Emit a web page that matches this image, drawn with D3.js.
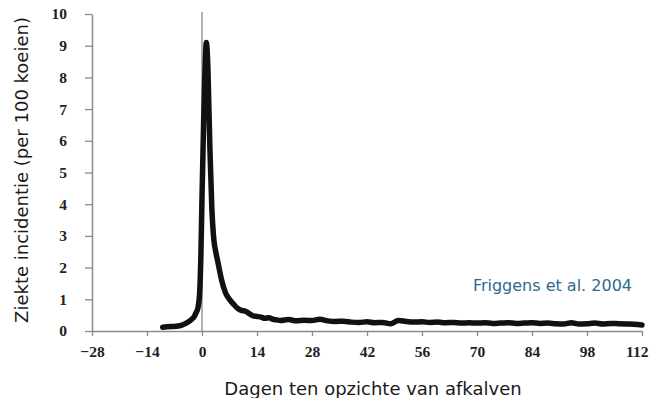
<!DOCTYPE html>
<html>
<head>
<meta charset="utf-8">
<script src="https://cdn.jsdelivr.net/npm/d3@7"></script>
<style>
  body { margin: 0; background: #fff; }
  svg { display: block; }
</style>
</head>
<body>
<svg id="chart" width="649" height="398"></svg>
<script>
// days relative to calving
const days = [-10, -8, -6, -4, -3, -2, -1.5, -1, -0.6, -0.3, 0, 0.4, 0.8, 1.1, 1.5, 2, 2.5, 3, 3.5, 4,
  5, 6, 7, 8, 9, 10, 11, 12, 13, 14, 15, 16, 17, 18, 19, 20, 22, 24, 26, 28, 30, 32, 34, 36, 38, 40,
  42, 44, 46, 48, 50, 52, 54, 56, 58, 60, 62, 64, 66, 68, 70, 72, 74, 76, 78, 80, 82, 84, 86, 88, 90,
  92, 94, 96, 98, 100, 102, 104, 106, 108, 110, 112];

// disease incidence per 100 cows
const incidence = [0.12, 0.14, 0.16, 0.25, 0.33, 0.45, 0.58, 0.75, 1.2, 2.3, 4.2, 6.5, 8.4, 9.1, 8.3, 5.8, 3.9, 2.9, 2.5, 2.2,
  1.6, 1.2, 1.0, 0.85, 0.72, 0.65, 0.63, 0.55, 0.48, 0.46, 0.44, 0.40, 0.42, 0.37, 0.35, 0.33, 0.36, 0.32, 0.34, 0.33, 0.37, 0.32, 0.30, 0.31, 0.28, 0.27,
  0.29, 0.26, 0.27, 0.23, 0.33, 0.30, 0.28, 0.29, 0.27, 0.28, 0.26, 0.27, 0.25, 0.26, 0.25, 0.26, 0.24, 0.25, 0.26, 0.24, 0.25, 0.26, 0.24, 0.25, 0.23,
  0.22, 0.26, 0.22, 0.23, 0.25, 0.22, 0.24, 0.23, 0.22, 0.21, 0.19];

const xTicks = [-28, -14, 0, 14, 28, 42, 56, 70, 84, 98, 112];
const yTicks = [0, 1, 2, 3, 4, 5, 6, 7, 8, 9, 10];

const xLabel = "Dagen ten opzichte van afkalven";
const yLabel = "Ziekte incidentie (per 100 koeien)";
const source = "Friggens et al. 2004";

const svg = d3.select("#chart");

const x = d3.scaleLinear().domain([-28, 112]).range([92, 642]);
const y = d3.scaleLinear().domain([0, 10]).range([331, 14]);

const axisColor = "#8c8c8c";

// y axis
const yAxis = svg.append("g")
  .attr("transform", `translate(${x(-28)},0)`)
  .call(d3.axisLeft(y).tickValues(yTicks).tickSize(7).tickPadding(18).tickSizeOuter(0));

// x axis
const xAxis = svg.append("g")
  .attr("transform", `translate(0,${y(0)})`)
  .call(d3.axisBottom(x).tickValues(xTicks).tickSize(5).tickPadding(10).tickSizeOuter(0));

[xAxis, yAxis].forEach(g => {
  g.select(".domain").attr("stroke", axisColor).attr("stroke-width", 1.5);
  g.selectAll(".tick line").attr("stroke", axisColor).attr("stroke-width", 1.3);
  g.selectAll(".tick text")
    .attr("fill", "#222")
    .style("font-family", "'Liberation Serif', 'DejaVu Serif', serif")
    .style("font-weight", "bold")
    .style("font-size", "15.5px");
});

// keep the last x label inside the picture
xAxis.selectAll(".tick text")
  .filter(d => d === 112)
  .attr("text-anchor", "end")
  .attr("x", 6);

// calving day marker
svg.append("line")
  .attr("x1", x(0)).attr("x2", x(0))
  .attr("y1", 12).attr("y2", y(0))
  .attr("stroke", "#9a9a9a")
  .attr("stroke-width", 1.5);

const pts = days.map((d, i) => [d, incidence[i]]);

const line = d3.line()
  .x(d => x(d[0]))
  .y(d => y(d[1]))
  .curve(d3.curveMonotoneX);

svg.append("path")
  .datum(pts)
  .attr("d", line)
  .attr("fill", "none")
  .attr("stroke", "#111")
  .attr("stroke-width", 5.5)
  .attr("stroke-linejoin", "round")
  .attr("stroke-linecap", "round");

// axis titles
svg.append("text")
  .attr("transform", "translate(28,170) rotate(-90)")
  .attr("text-anchor", "middle")
  .attr("fill", "#1a1a1a")
  .style("font-family", "'DejaVu Sans', Verdana, sans-serif")
  .style("font-size", "18px")
  .text(yLabel);

svg.append("text")
  .attr("x", 373)
  .attr("y", 395)
  .attr("text-anchor", "middle")
  .attr("fill", "#1a1a1a")
  .style("font-family", "'DejaVu Sans', Verdana, sans-serif")
  .style("font-size", "18px")
  .text(xLabel);

svg.append("text")
  .attr("x", 632)
  .attr("y", 291)
  .attr("text-anchor", "end")
  .attr("fill", "#2d6a8c")
  .style("font-family", "'DejaVu Sans', Verdana, sans-serif")
  .style("font-size", "16px")
  .text(source);
</script>
</body>
</html>
